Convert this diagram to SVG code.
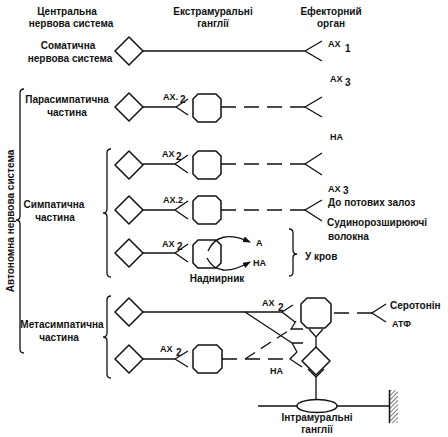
<svg xmlns="http://www.w3.org/2000/svg" width="448" height="437" viewBox="0 0 448 437">
<defs>
<style>
.t{font-family:"Liberation Sans",Arial,sans-serif;font-weight:bold;font-size:10px;fill:#111}
.s{font-family:"Liberation Sans",Arial,sans-serif;font-weight:bold;font-size:9px;fill:#111}
.d{font-family:"Liberation Sans",Arial,sans-serif;font-weight:bold;font-size:10px;fill:#111}
.m{text-anchor:middle}
.ln{stroke:#111;stroke-width:1.3;fill:none}
.dash{stroke:#111;stroke-width:1.3;fill:none;stroke-dasharray:15 8}
.nd{stroke:#111;stroke-width:1.5;fill:#fff;stroke-linejoin:round}
</style>
<marker id="arr" markerWidth="8" markerHeight="6" refX="7" refY="3" orient="auto" markerUnits="userSpaceOnUse">
<path d="M0,0 L8,3 L0,6 Z" fill="#111"/>
</marker>
<pattern id="hatch" width="3" height="3" patternUnits="userSpaceOnUse" patternTransform="rotate(45)">
<rect width="3" height="3" fill="#fff"/>
<line x1="0" y1="0" x2="0" y2="3" stroke="#333" stroke-width="1.3"/>
</pattern>
</defs>
<rect width="448" height="437" fill="#fff"/>

<g id="headers">
<text class="t m" x="67" y="15">Центральна</text>
<text class="t m" x="71" y="27">нервова система</text>
<text class="t m" x="213" y="15">Екстрамуральні</text>
<text class="t m" x="213" y="27">ганглії</text>
<text class="t m" x="331" y="15">Ефекторний</text>
<text class="t m" x="331" y="27">орган</text>
</g>

<g id="labels-left">
<text class="t m" x="68" y="49">Соматична</text>
<text class="t m" x="70" y="62">нервова система</text>
<text class="t m" x="67" y="103">Парасимпатична</text>
<text class="t m" x="67" y="116">частина</text>
<text class="t m" x="54" y="208">Симпатична</text>
<text class="t m" x="55" y="221">частина</text>
<text class="t m" x="62" y="328">Метасимпатична</text>
<text class="t m" x="59" y="341">частина</text>
<text class="t m" x="14" y="221" transform="rotate(-90 14 221)">Автономна нервова система</text>
</g>

<g id="brackets" class="ln">
<path d="M24,89 Q20,89 20,93 L20,216 Q20,220 16,220 Q20,220 20,224 L20,349 Q20,353 24,353"/>
<path d="M111,149 Q107,149 107,153 L107,209 Q107,213 103,213 Q107,213 107,217 L107,273 Q107,277 111,277"/>
<path d="M111,296 Q107,296 107,300 L107,333 Q107,337 103,337 Q107,337 107,341 L107,374 Q107,378 111,378"/>
<path d="M289,229 Q293,229 293,233 L293,250 Q293,254 297,254 Q293,254 293,258 L293,272 Q293,276 289,276"/>
</g>

<g id="connectors">
<path class="ln" d="M143,51 H305 M322,41 L305,51 L322,61"/>
<path class="ln" d="M143,107 H176 M188,99 L176,107 L188,115"/>
<path class="dash" d="M305,107 H221"/>
<path class="ln" d="M322,97 L305,107 L322,117"/>
<path class="ln" d="M143,164 H175 M188,155 L175,164 L188,173"/>
<path class="dash" d="M305,164 H221"/>
<path class="ln" d="M322,153 L305,164 L322,175"/>
<path class="ln" d="M143,210 H175 M188,201 L175,210 L188,219"/>
<path class="dash" d="M305,210 H221"/>
<path class="ln" d="M322,200 L305,210 L322,221"/>
<path class="ln" d="M143,253 H175 M188,244 L175,253 L188,262"/>
<path class="ln" d="M208,251 Q218,228 250,242" marker-end="url(#arr)"/>
<path class="ln" d="M207,258 Q218,280 250,262" marker-end="url(#arr)"/>
<path class="ln" d="M143,312 H282 M293,305 L282,312 L295,322"/>
<path class="ln" d="M245,312 L292,343 M303,343 L292,343 L297,352"/>
<path class="dash" d="M372,313 H331"/>
<path class="ln" d="M386,304 L372,313 L386,322"/>
<path class="ln" d="M143,359 H175 M188,351 L175,359 L188,367"/>
<path class="dash" d="M222,359 H290"/>
<path class="ln" d="M297,352 L290,359 L302,367"/>
<path class="dash" d="M245,359 L291,329" style="stroke-dasharray:12 7"/>
<path class="ln" d="M303,329 L291,329 L296,321"/>
<path class="ln" d="M309,329 L316,337 L323,329 M316,337 V347"/>
<path class="ln" d="M308,369 L316,377 L324,369 M316,377 V400"/>
<path class="ln" d="M258,406 H297 M337,406 H390"/>
</g>

<g id="n-som"><path class="nd" d="M115,51 L129,37 L143,51 L129,65 Z"/></g>
<g id="n-para"><path class="nd" d="M115,107 L129,93 L143,107 L129,121 Z"/></g>
<g id="n-para-g"><path class="nd" d="M198,94 H216 L221,99 V117 L216,122 H198 L193,117 V99 Z"/></g>
<g id="n-sym1"><path class="nd" d="M115,165 L129,151 L143,165 L129,179 Z"/></g>
<g id="n-sym1-g"><path class="nd" d="M198,151 H216 L221,156 V174 L216,179 H198 L193,174 V156 Z"/></g>
<g id="n-sym2"><path class="nd" d="M115,210 L129,196 L143,210 L129,224 Z"/></g>
<g id="n-sym2-g"><path class="nd" d="M198,196 H216 L221,201 V219 L216,224 H198 L193,219 V201 Z"/></g>
<g id="n-adr"><path class="nd" d="M115,253 L129,239 L143,253 L129,267 Z"/></g>
<g id="n-adr-g"><path class="nd" style="fill:none" d="M198,240 H216 L221,245 V263 L216,268 H198 L193,263 V245 Z"/></g>
<g id="n-meta1"><path class="nd" d="M115,312 L129,298 L143,312 L129,326 Z"/></g>
<g id="n-meta2"><path class="nd" d="M115,359 L129,345 L143,359 L129,373 Z"/></g>
<g id="n-meta2-g"><path class="nd" d="M198,345 H217 L222,350 V368 L217,373 H198 L193,368 V350 Z"/></g>
<g id="n-meta-oct"><path class="nd" d="M307,298 H325 L331,304 V322 L325,328 H307 L301,322 V304 Z"/></g>
<g id="n-meta-dia"><path class="nd" d="M302,361 L316,347 L330,361 L316,375 Z"/></g>
<g id="n-intra"><ellipse class="nd" cx="317" cy="406" rx="20" ry="6.5"/></g>
<g id="wall">
<rect x="389" y="390" width="9" height="33" fill="url(#hatch)"/>
<line x1="389.5" y1="390" x2="389.5" y2="423" stroke="#111" stroke-width="1.5"/>
</g>

<g id="labels-right">
<text class="s" x="328" y="47">AX</text><text class="d" x="345" y="52">1</text>
<text class="s" x="330" y="82">AX</text><text class="d" x="345" y="86">3</text>
<text class="s" x="163" y="100">AX.</text><text class="d" x="180" y="103">2</text>
<text class="s" x="330" y="140">НА</text>
<text class="s" x="162" y="157">AX</text><text class="d" x="176" y="160">2</text>
<text class="s" x="328" y="192">AX</text><text class="d" x="343" y="194">3</text>
<text class="s" x="163" y="203">AX.2</text>
<text class="t" x="328" y="206">До потових залоз</text>
<text class="t" x="327" y="226">Судинорозширюючі</text>
<text class="t" x="328" y="240">волокна</text>
<text class="s" x="162" y="247">AX</text><text class="d" x="177" y="250">2</text>
<text class="s" x="256" y="246">A</text>
<text class="s" x="253" y="266">НА</text>
<text class="t m" x="217" y="282">Наднирник</text>
<text class="t" x="305" y="260">У кров</text>
<text class="s" x="262" y="306">AX</text><text class="d" x="278" y="311">2</text>
<text class="t" x="390" y="309">Серотонін</text>
<text class="s" x="392" y="327">АТФ</text>
<text class="s" x="160" y="352">AX</text><text class="d" x="176" y="356">2</text>
<text class="s" x="270" y="374">НА</text>
<text class="t m" x="317" y="421">Інтрамуральні</text>
<text class="t m" x="317" y="433">ганглії</text>
</g>
</svg>
